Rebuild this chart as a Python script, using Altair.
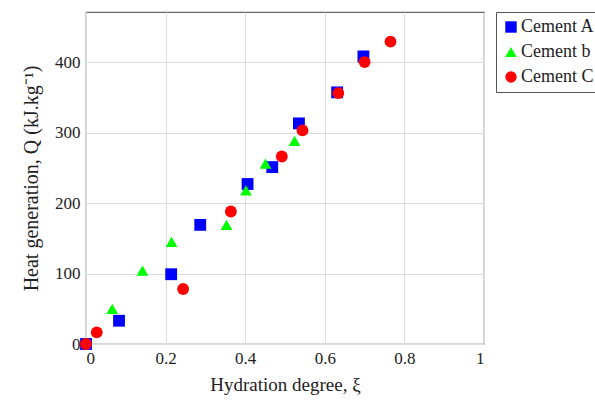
import altair as alt
import pandas as pd

series_names = ["Cement A", "Cement b", "Cement C"]

a_x = [0.0, 0.083, 0.214, 0.287, 0.406, 0.468, 0.535, 0.631, 0.697]
a_y = [0, 33, 99, 169, 227, 251, 313, 357, 408]

b_x = [0.066, 0.142, 0.215, 0.353, 0.402, 0.451, 0.524]
b_y = [50, 104, 145, 169, 218, 256, 288]

c_x = [0.0, 0.027, 0.244, 0.364, 0.492, 0.544, 0.634, 0.700, 0.765]
c_y = [0, 16.5, 78, 188, 266, 303, 356, 400, 429]

rows = []
for name, xs, ys in zip(series_names, [a_x, b_x, c_x], [a_y, b_y, c_y]):
    for xv, yv in zip(xs, ys):
        rows.append({"xi": xv, "Q": yv, "series": name})
df = pd.DataFrame(rows)

FONT = "'Liberation Serif', 'Times New Roman', serif"

legend = alt.Legend(title=None, orient="none", legendX=410, legendY=0,
                    labelFont=FONT, labelFontSize=18)

chart = alt.Chart(df).mark_point(filled=True, opacity=1, size=140).encode(
    x=alt.X("xi:Q", scale=alt.Scale(domain=[0, 1], nice=False, zero=False),
            axis=alt.Axis(title="Hydration degree, ξ", values=[0, 0.2, 0.4, 0.6, 0.8, 1],
                          format="~g", titlePadding=9, titleFontSize=19,
                          labelFont=FONT, titleFont=FONT)),
    y=alt.Y("Q:Q", scale=alt.Scale(domain=[0, 471], nice=False),
            axis=alt.Axis(title="Heat generation, Q (kJ.kg⁻¹)", values=[0, 100, 200, 300, 400],
                          titlePadding=13, titleFontSize=20,
                          labelFont=FONT, titleFont=FONT)),
    color=alt.Color("series:N", scale=alt.Scale(domain=series_names,
                                                range=["#0000ff", "#00ff00", "#ff0000"]),
                    legend=legend),
    shape=alt.Shape("series:N", scale=alt.Scale(domain=series_names,
                                                range=["square", "triangle-up", "circle"]),
                    legend=legend),
).properties(
    width=398, height=332,
    autosize=alt.AutoSizeParams(type="none"),
    padding={"left": 86, "top": 12, "right": 111, "bottom": 57},
).configure(
    font=FONT
).configure_view(
    stroke="#666666", strokeWidth=1.2
).configure_axis(
    labelFontSize=17,
    labelColor="#222222", titleColor="#222222", titleFontWeight="normal",
    grid=True, gridColor="#dddddd", domain=False, ticks=False,
    labelPadding=6
).configure_legend(
    labelColor="#222222",
    strokeColor="#555555", padding=6, symbolSize=130, symbolStrokeWidth=0,
    rowPadding=7, labelOffset=1, fillColor="white"
)

chart.save("out.html", embed_options={"renderer": "svg", "actions": False})
